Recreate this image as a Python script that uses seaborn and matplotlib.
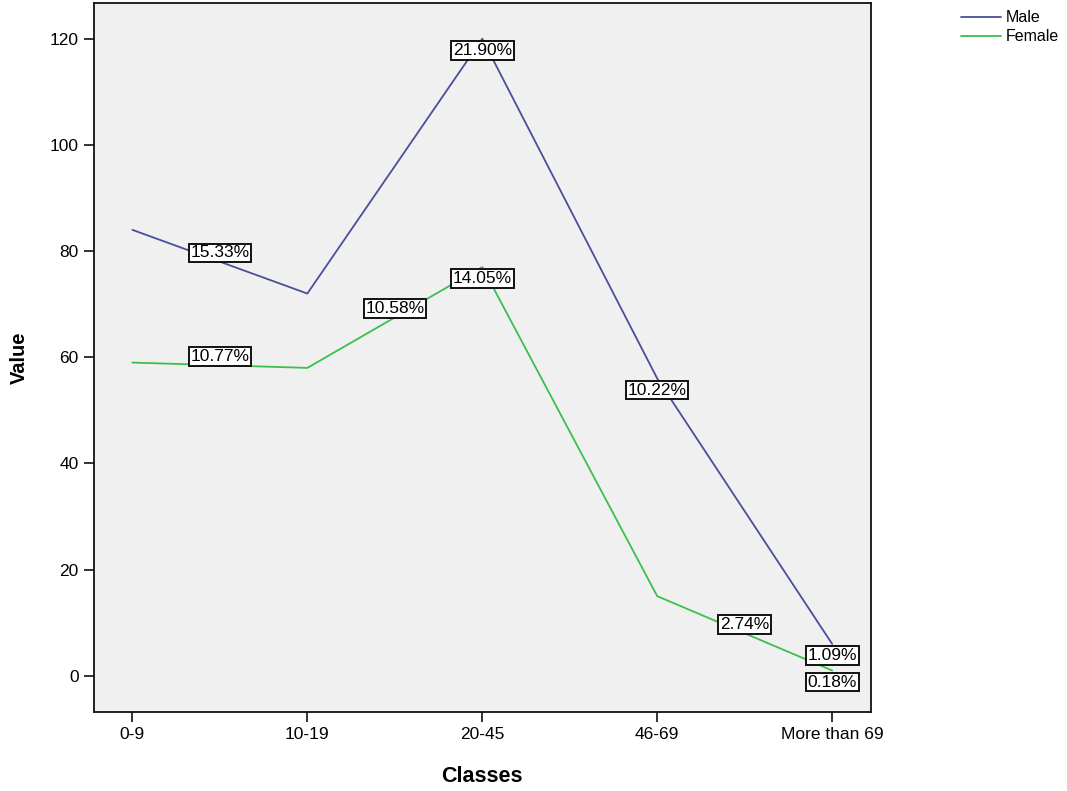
import numpy as np
import pandas as pd
import matplotlib.pyplot as plt
import seaborn as sns

# values (counts per age class)
classes = ['0-9', '10-19', '20-45', '46-69', 'More than 69']
male = [84, 72, 120, 56, 6]
female = [59, 58, 77, 15, 1]
total = sum(male) + sum(female)

# which category gets a % label, where it sits on the x axis, and above/below the line
male_labels = [(0, 0.5, 'bottom'), (2, 2, 'top'), (3, 3, 'top'), (4, 4, 'top')]
female_labels = [(0, 0.5, 'bottom'), (1, 1.5, 'bottom'), (2, 2, 'top'), (3, 3.5, 'bottom'), (4, 4, 'top')]

df = pd.DataFrame({
    'Classes': classes * 2,
    'Value': male + female,
    'Sex': ['Male'] * len(classes) + ['Female'] * len(classes),
})

sns.set_style('ticks')
plt.rcParams['font.family'] = ['Liberation Sans', 'DejaVu Sans']
plt.rcParams['text.color'] = 'black'
plt.rcParams['xtick.color'] = 'black'
plt.rcParams['ytick.color'] = 'black'
plt.rcParams['axes.labelcolor'] = 'black'

colors = {'Male': '#4a4f9a', 'Female': '#3cbf4c'}

fig = plt.figure(figsize=(10.67, 7.91), dpi=100)
ax = fig.add_axes([0.088, 0.1, 0.728, 0.896])
ax.set_facecolor('#f0f0f0')

sns.lineplot(data=df, x='Classes', y='Value', hue='Sex', palette=colors,
             linewidth=1.3, ax=ax, legend=False, sort=False)

xs = np.arange(len(classes))
for vals, specs in [(male, male_labels), (female, female_labels)]:
    for i, xpos, va in specs:
        y = np.interp(xpos, xs, vals)
        pct = vals[i] / total * 100
        off = -3 if va == 'top' else 1
        ax.annotate(f'{pct:.2f}%', (xpos, y), xytext=(0, off), textcoords='offset points',
                    ha='center', va=va, fontsize=12.5,
                    bbox=dict(boxstyle='square,pad=0.1', fc='white', ec='#111111', lw=1.4))

ax.set_xlim(-0.22, 4.22)
ax.set_ylim(-6.8, 126.7)
ax.set_yticks(range(0, 121, 20))
ax.set_xticks(xs)
ax.set_xticklabels(classes)
ax.tick_params(axis='both', labelsize=12.5, length=7, width=1.2, color='#111111', pad=4)
for s in ax.spines.values():
    s.set_visible(True)
    s.set_color('#111111')
    s.set_linewidth(1.3)

ax.set_xlabel('Classes', fontsize=15.5, fontweight='bold', labelpad=17)
ax.set_ylabel('Value', fontsize=14.5, fontweight='bold', labelpad=15)

handles = [plt.Line2D([], [], color=colors[k], lw=1.3) for k in ['Male', 'Female']]
fig.legend(handles, ['Male', 'Female'], loc='upper left', bbox_to_anchor=(0.895, 0.995),
           frameon=False, fontsize=11.5, handlelength=2.5, handletextpad=0.3,
           labelspacing=0.25, borderaxespad=0)

fig.savefig('out.png', dpi=100)
